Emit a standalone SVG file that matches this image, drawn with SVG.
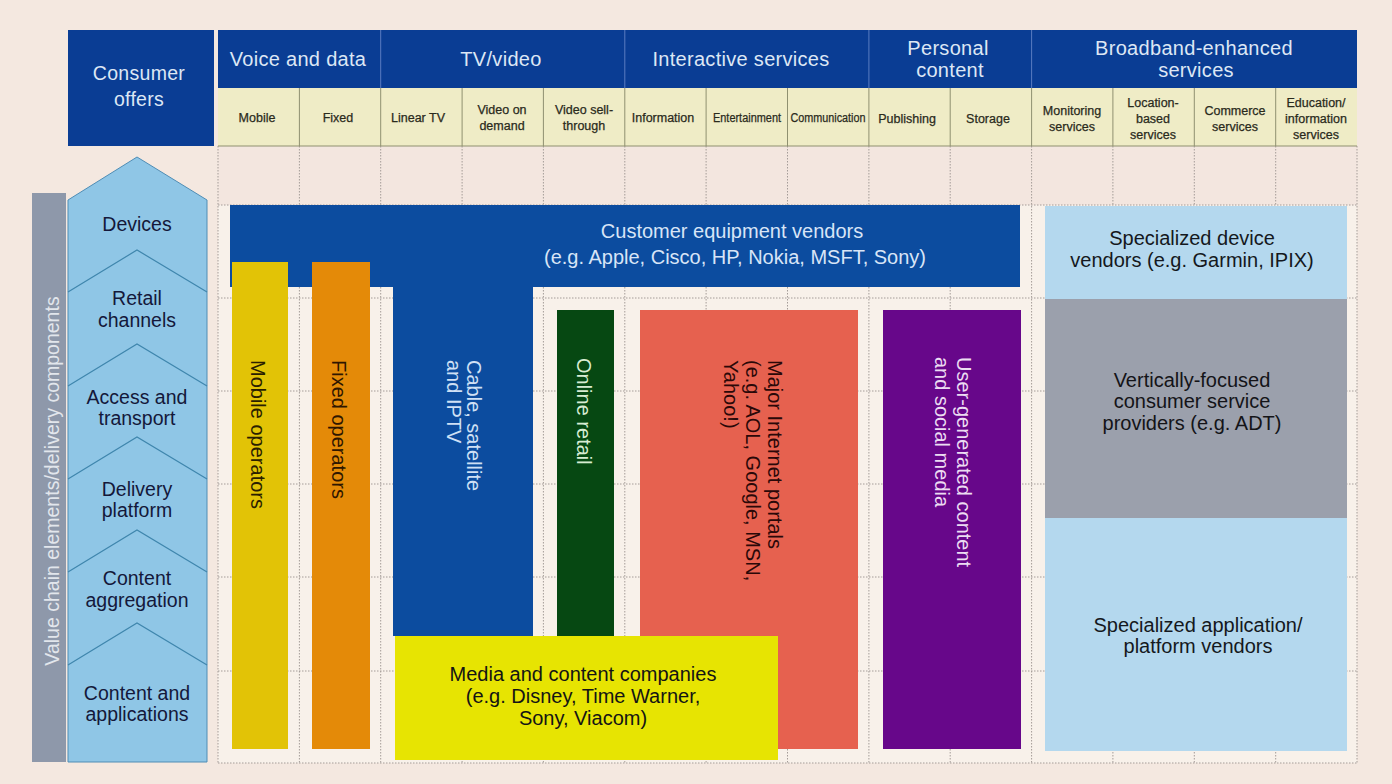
<svg xmlns="http://www.w3.org/2000/svg" width="1392" height="784" viewBox="0 0 1392 784">
<style>
text{font-family:"Liberation Sans",Arial,sans-serif}
.hd{font-size:20px;fill:#dde7f5;text-anchor:middle;letter-spacing:0.3px}
.sub{font-size:12.5px;fill:#2a2a1c;text-anchor:middle;stroke:#2a2a1c;stroke-width:0.25}
.lbl{font-size:20px;text-anchor:middle}
.chev{font-size:19.5px;text-anchor:middle;fill:#14183a}
.rot{font-size:20px}
.grid{fill:none;stroke:#a49c98;stroke-width:1;stroke-dasharray:1.5 1.5}
</style>
<rect x="0" y="0" width="1392" height="784" fill="#f4e8e0"/>
<rect x="218" y="146" width="1139" height="617" fill="#f8f1ea"/>
<rect x="218" y="146" width="1139" height="59" fill="#f3e6df"/>

<g id="grid">
<path class="grid" d="M218 146V763M299.4 146V763M380.7 146V763M462.1 146V763M543.4 146V763M624.8 146V763M706.1 146V763M787.5 146V763M868.9 146V763M950.2 146V763M1031.6 146V763M1112.9 146V763M1194.3 146V763M1275.7 146V763M1357 146V763M218 205H1357M218 298H1357M218 391H1357M218 484H1357M218 577H1357M218 671H1357M218 763H1357"/>
</g>

<g id="header-consumer-offers">
<rect x="68" y="30" width="146" height="116" fill="#0a3d94"/>
<text class="hd" x="139" y="80" style="font-size:19.5px">Consumer</text>
<text class="hd" x="139" y="106" style="font-size:19.5px">offers</text>
</g>

<g id="header-groups">
<rect x="218" y="30" width="1139" height="58" fill="#0a3d94"/>
<path d="M380.7 30V88M624.8 30V88M868.9 30V88M1031.6 30V88" stroke="#5a7cc0" stroke-width="1"/>
<text class="hd" x="298" y="66">Voice and data</text>
<text class="hd" x="501" y="66">TV/video</text>
<text class="hd" x="741" y="66">Interactive services</text>
<text class="hd" x="948" y="55">Personal</text>
<text class="hd" x="950" y="77">content</text>
<text class="hd" x="1194" y="55">Broadband-enhanced</text>
<text class="hd" x="1196" y="77">services</text>
</g>

<g id="header-columns">
<rect x="218" y="88" width="1139" height="58" fill="#efecc6"/>
<path d="M299.4 88V146M380.7 88V146M462.1 88V146M543.4 88V146M624.8 88V146M706.1 88V146M787.5 88V146M868.9 88V146M950.2 88V146M1031.6 88V146M1112.9 88V146M1194.3 88V146M1275.7 88V146M218 146H1357" stroke="#8f9070" stroke-width="1"/>
<text class="sub" x="257" y="122">Mobile</text>
<text class="sub" x="338" y="122">Fixed</text>
<text class="sub" x="418" y="122">Linear TV</text>
<text class="sub" x="502" y="114">Video on</text>
<text class="sub" x="502" y="130">demand</text>
<text class="sub" x="584" y="114">Video sell-</text>
<text class="sub" x="584" y="130">through</text>
<text class="sub" x="663" y="122">Information</text>
<text class="sub" x="747" y="122" textLength="68" lengthAdjust="spacingAndGlyphs">Entertainment</text>
<text class="sub" x="828" y="122" textLength="75" lengthAdjust="spacingAndGlyphs">Communication</text>
<text class="sub" x="907" y="123">Publishing</text>
<text class="sub" x="988" y="123">Storage</text>
<text class="sub" x="1072" y="115">Monitoring</text>
<text class="sub" x="1072" y="131">services</text>
<text class="sub" x="1153" y="107">Location-</text>
<text class="sub" x="1153" y="123">based</text>
<text class="sub" x="1153" y="139">services</text>
<text class="sub" x="1235" y="115">Commerce</text>
<text class="sub" x="1235" y="131">services</text>
<text class="sub" x="1316" y="107">Education/</text>
<text class="sub" x="1316" y="123">information</text>
<text class="sub" x="1316" y="139">services</text>
</g>

<g id="value-chain-label">
<rect x="32" y="193" width="34" height="569" fill="#8e98aa"/>
<text class="lbl" transform="translate(59,481) rotate(-90)" style="font-size:19.5px;fill:#e2e6ec">Value chain elements/delivery components</text>
</g>

<g id="value-chain">
<path d="M68 200L137 157L207 200V762H68Z" fill="#8fc6e6" stroke="#4f8db5" stroke-width="1"/>
<path d="M68 292L137 250L207 292M68 386L137 344L207 386M68 479L137 437L207 479M68 572L137 530L207 572M68 665L137 623L207 665" fill="none" stroke="#3f86ad" stroke-width="1.2"/>
<text class="chev" x="137" y="231">Devices</text>
<text class="chev" x="137" y="305">Retail</text>
<text class="chev" x="137" y="327">channels</text>
<text class="chev" x="137" y="404">Access and</text>
<text class="chev" x="137" y="425">transport</text>
<text class="chev" x="137" y="496">Delivery</text>
<text class="chev" x="137" y="517">platform</text>
<text class="chev" x="137" y="585">Content</text>
<text class="chev" x="137" y="607">aggregation</text>
<text class="chev" x="137" y="700">Content and</text>
<text class="chev" x="137" y="721">applications</text>
</g>

<g id="customer-equipment-vendors">
<rect x="230" y="205" width="790" height="82" fill="#0c4c9f"/>
<text class="lbl" x="732" y="238" fill="#d8e5f7">Customer equipment vendors</text>
<text class="lbl" x="735" y="264" fill="#d8e5f7">(e.g. Apple, Cisco, HP, Nokia, MSFT, Sony)</text>
</g>

<g id="cable-satellite-iptv">
<rect x="393" y="205" width="140" height="431" fill="#0c4c9f"/>
<text class="rot" transform="translate(467,360) rotate(90)" fill="#cfe0f5"><tspan x="0" y="0">Cable, satellite</tspan><tspan x="0" y="20">and IPTV</tspan></text>
</g>

<g id="mobile-operators">
<rect x="232" y="262" width="56" height="487" fill="#e2c306"/>
<text class="rot" transform="translate(251,360) rotate(90)" fill="#2a1e00">Mobile operators</text>
</g>

<g id="fixed-operators">
<rect x="312" y="262" width="58" height="487" fill="#e48a08"/>
<text class="rot" transform="translate(332,360) rotate(90)" fill="#2e1600">Fixed operators</text>
</g>

<g id="online-retail">
<rect x="557" y="310" width="57" height="326" fill="#064812"/>
<text class="rot" transform="translate(577,358) rotate(90)" fill="#d8ecd2">Online retail</text>
</g>

<g id="internet-portals">
<rect x="640" y="310" width="218" height="439" fill="#e6614f"/>
<text class="rot" transform="translate(768,360) rotate(90)" fill="#2a0808"><tspan x="0" y="0">Major Internet portals</tspan><tspan x="0" y="22">(e.g. AOL, Google, MSN,</tspan><tspan x="0" y="44">Yahoo!)</tspan></text>
</g>

<g id="user-generated-content">
<rect x="883" y="310" width="138" height="439" fill="#67078a"/>
<text class="rot" transform="translate(957,357) rotate(90)" fill="#ecdcf2"><tspan x="0" y="0">User-generated content</tspan><tspan x="0" y="22">and social media</tspan></text>
</g>

<g id="media-content-companies">
<rect x="395" y="636" width="383" height="124" fill="#e7e402"/>
<text class="lbl" x="583" y="681" fill="#141414">Media and content companies</text>
<text class="lbl" x="583" y="703" fill="#141414">(e.g. Disney, Time Warner,</text>
<text class="lbl" x="583" y="725" fill="#141414">Sony, Viacom)</text>
</g>

<g id="specialized-device-vendors">
<rect x="1045" y="206" width="302" height="545" fill="#b4d8ee"/>
<text class="lbl" x="1192" y="245" fill="#141820">Specialized device</text>
<text class="lbl" x="1192" y="267" fill="#141820">vendors (e.g. Garmin, IPIX)</text>
</g>

<g id="vertically-focused-providers">
<rect x="1045" y="299" width="302" height="219" fill="#9ba0ac"/>
<text class="lbl" x="1192" y="387" fill="#141418">Vertically-focused</text>
<text class="lbl" x="1192" y="408" fill="#141418">consumer service</text>
<text class="lbl" x="1192" y="430" fill="#141418">providers (e.g. ADT)</text>
</g>

<g id="specialized-application-vendors">
<text class="lbl" x="1198" y="632" fill="#141820">Specialized application/</text>
<text class="lbl" x="1198" y="653" fill="#141820">platform vendors</text>
</g>

<g id="connectors"></g>
</svg>
